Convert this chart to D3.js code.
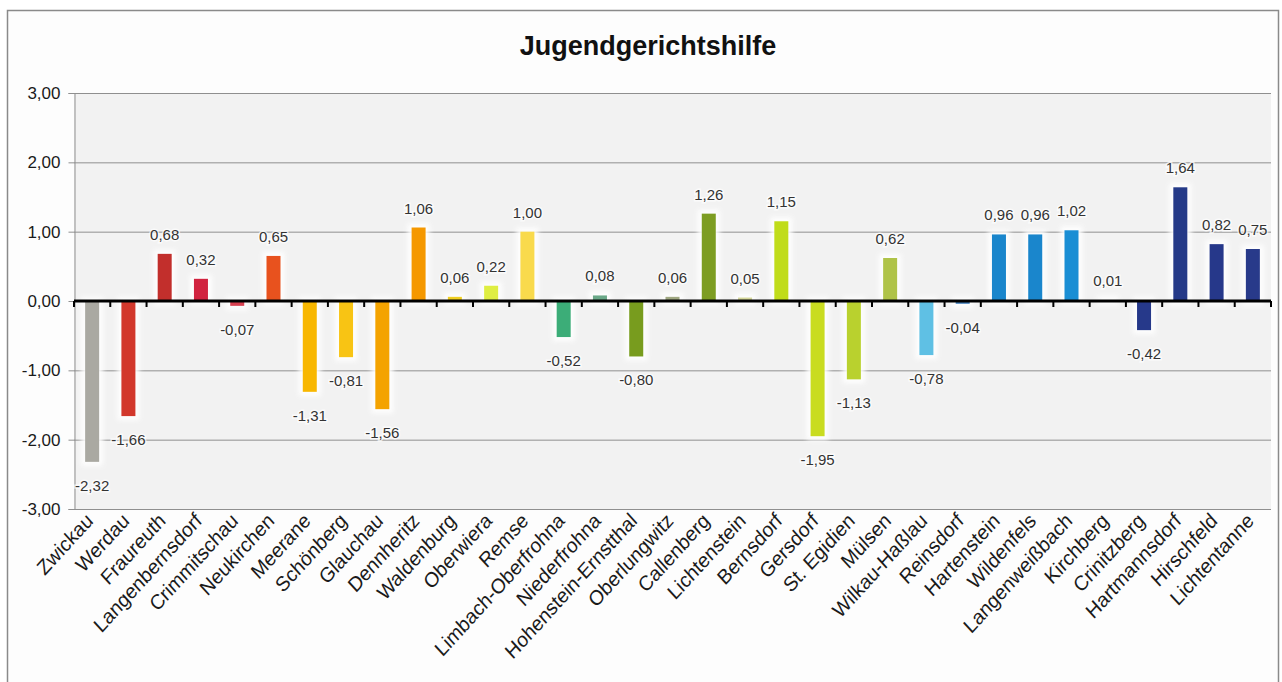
<!DOCTYPE html>
<html>
<head>
<meta charset="utf-8">
<script src="https://cdn.jsdelivr.net/npm/d3@7"></script>
<style>
  html, body { margin: 0; padding: 0; background: #ffffff; }
  svg { display: block; font-family: "Liberation Sans", Arial, sans-serif; }
</style>
</head>
<body>
<svg id="chart" width="1282" height="682"></svg>
<script>
// Municipalities in the district, in chart order
const municipalities = [
  "Zwickau", "Werdau", "Fraureuth", "Langenbernsdorf", "Crimmitschau", "Neukirchen",
  "Meerane", "Schönberg", "Glauchau", "Dennheritz", "Waldenburg", "Oberwiera", "Remse",
  "Limbach-Oberfrohna", "Niederfrohna", "Hohenstein-Ernstthal", "Oberlungwitz",
  "Callenberg", "Lichtenstein", "Bernsdorf", "Gersdorf", "St. Egidien", "Mülsen",
  "Wilkau-Haßlau", "Reinsdorf", "Hartenstein", "Wildenfels", "Langenweißbach",
  "Kirchberg", "Crinitzberg", "Hartmannsdorf", "Hirschfeld", "Lichtentanne"
];

// Index value per municipality
const values = [
  -2.32, -1.66, 0.68, 0.32, -0.07, 0.65,
  -1.31, -0.81, -1.56, 1.06, 0.06, 0.22, 1.00,
  -0.52, 0.08, -0.80, 0.06,
  1.26, 0.05, 1.15, -1.95, -1.13, 0.62,
  -0.78, -0.04, 0.96, 0.96, 1.02,
  0.01, -0.42, 1.64, 0.82, 0.75
];

// Bar fill per municipality
const barColors = [
  "#aaa9a2", "#d2382c", "#c22f2c", "#d1233f", "#d84050", "#e8521e",
  "#f8b700", "#f8c414", "#f4a300", "#f59800", "#f0cf22", "#dfee42", "#f9da4c",
  "#3cad78", "#6aa888", "#789c1e", "#a0a882",
  "#7d9d22", "#d6d89c", "#c0dc1a", "#c9dc20", "#b9d12e", "#afc348",
  "#5fc0e4", "#3a7ab8", "#1a86cc", "#1a86cc", "#1a8ed4",
  "#4070b0", "#26398a", "#253a88", "#26388a", "#283a8a"
];

const yTicks = [3, 2, 1, 0, -1, -2, -3];

const chartTitle = "Jugendgerichtshilfe";

const svg = d3.select("#chart");
const fmt = v => d3.format(".2f")(v).replace(".", ",").replace("−", "-");

const plot = { left: 74, right: 1271, top: 93, bottom: 509 };

// frame around the chart
svg.append("rect")
  .attr("x", 7.5).attr("y", 10.5)
  .attr("width", 1271).attr("height", 690)
  .attr("fill", "#fdfdfd")
  .attr("stroke", "#8a8a8a").attr("stroke-width", 1.5);

svg.append("text")
  .attr("x", 648).attr("y", 55)
  .attr("text-anchor", "middle")
  .attr("font-size", 27).attr("font-weight", "bold")
  .attr("fill", "#111")
  .text(chartTitle);

const x = d3.scaleBand()
  .domain(municipalities)
  .range([plot.left, plot.right])
  .paddingInner(0.614)
  .paddingOuter(0.307);

const y = d3.scaleLinear().domain([-3, 3]).range([plot.bottom, plot.top]);

// plot background
svg.append("rect")
  .attr("x", plot.left).attr("y", plot.top)
  .attr("width", plot.right - plot.left).attr("height", plot.bottom - plot.top)
  .attr("fill", "#f2f2f2");

// horizontal grid lines
svg.append("g")
  .selectAll("line")
  .data(yTicks.filter(t => t !== 0))
  .join("line")
  .attr("x1", plot.left).attr("x2", plot.right)
  .attr("y1", d => y(d) + 0.5).attr("y2", d => y(d) + 0.5)
  .attr("stroke", "#8f8f8f").attr("stroke-width", 1);

// y axis
const yAxis = svg.append("g")
  .attr("transform", `translate(${plot.left + 0.5},0)`)
  .call(d3.axisLeft(y).tickValues(yTicks).tickFormat(fmt).tickSize(6).tickPadding(8));
yAxis.select(".domain").attr("stroke", "#8f8f8f");
yAxis.selectAll(".tick line").attr("stroke", "#8f8f8f");
yAxis.selectAll(".tick text")
  .attr("font-size", 17).attr("fill", "#1a1a1a")
  .attr("font-family", "Liberation Sans, Arial, sans-serif");

// soft white halo behind bars
const defs = svg.append("defs");
defs.append("filter").attr("id", "halo")
  .attr("x", "-50%").attr("y", "-50%").attr("width", "200%").attr("height", "200%")
  .append("feGaussianBlur").attr("stdDeviation", 2.5);

const data = municipalities.map((m, i) => ({ name: m, value: values[i], color: barColors[i] }));

svg.append("g")
  .selectAll("rect")
  .data(data)
  .join("rect")
  .attr("x", d => x(d.name) - 4)
  .attr("width", x.bandwidth() + 8)
  .attr("y", d => Math.min(y(d.value), y(0)) - 4)
  .attr("height", d => Math.abs(y(d.value) - y(0)) + 8)
  .attr("fill", "#ffffff")
  .attr("opacity", 0.9)
  .attr("filter", "url(#halo)");

svg.append("g")
  .selectAll("rect")
  .data(data)
  .join("rect")
  .attr("x", d => x(d.name))
  .attr("width", x.bandwidth())
  .attr("y", d => Math.min(y(d.value), y(0)))
  .attr("height", d => Math.abs(y(d.value) - y(0)))
  .attr("fill", d => d.color);

// zero line with category ticks
const step = x.step();
svg.append("line")
  .attr("x1", plot.left).attr("x2", plot.right)
  .attr("y1", y(0)).attr("y2", y(0))
  .attr("stroke", "#000").attr("stroke-width", 3);
svg.append("g")
  .selectAll("line")
  .data(d3.range(municipalities.length + 1))
  .join("line")
  .attr("x1", i => plot.left + i * step).attr("x2", i => plot.left + i * step)
  .attr("y1", y(0)).attr("y2", y(0) + 6)
  .attr("stroke", "#000").attr("stroke-width", 2);

// value labels
svg.append("g")
  .selectAll("text")
  .data(data)
  .join("text")
  .attr("x", d => x(d.name) + x.bandwidth() / 2)
  .attr("y", d => d.value >= 0 ? y(d.value) - 14 : y(d.value) + 29)
  .attr("text-anchor", "middle")
  .attr("font-size", 15)
  .attr("fill", "#333")
  .attr("stroke", "#ffffff").attr("stroke-width", 3).attr("stroke-opacity", 0.7)
  .attr("paint-order", "stroke")
  .text(d => fmt(d.value));

// category labels
svg.append("g")
  .selectAll("text")
  .data(data)
  .join("text")
  .attr("transform", d => `translate(${x(d.name) + x.bandwidth() / 2 + 2},522) scale(1,1.1) rotate(-45)`)
  .attr("text-anchor", "end")
  .attr("font-size", 19)
  .attr("fill", "#1a1a1a")
  .text(d => d.name);
</script>
</body>
</html>
